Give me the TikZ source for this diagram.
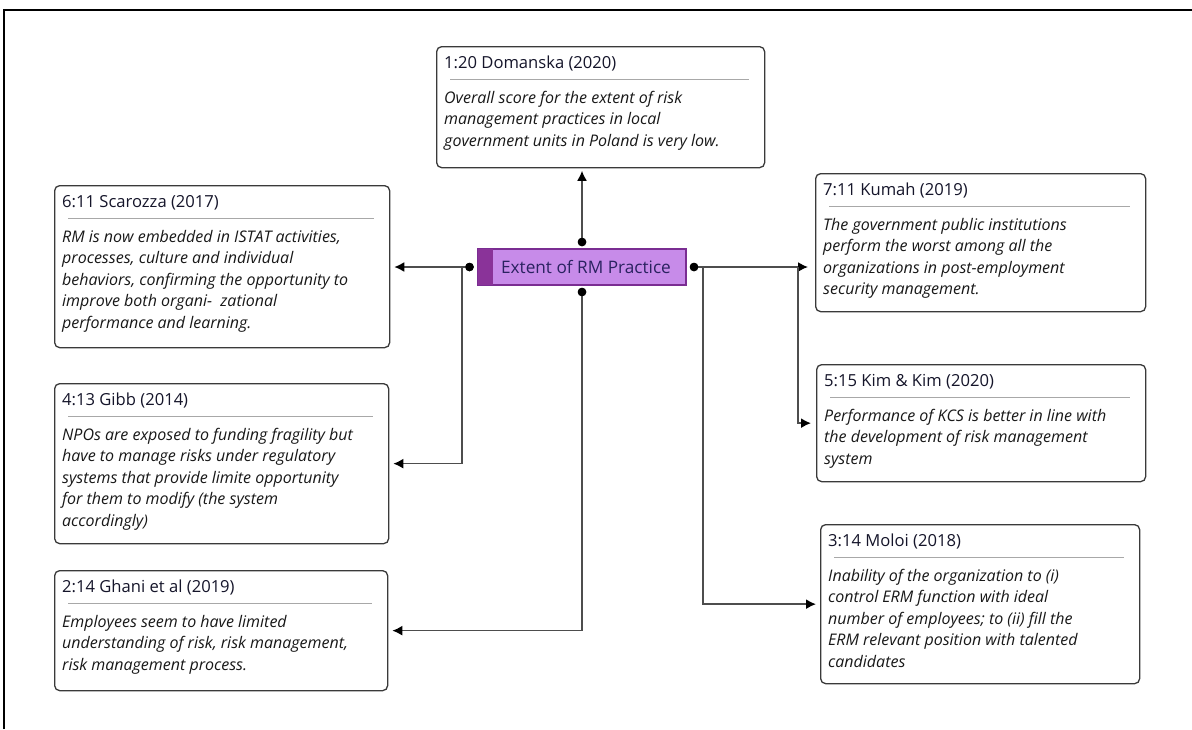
\documentclass[tikz,border=0pt]{standalone}
\usepackage{fontspec}
\setmainfont{Open Sans}
\usetikzlibrary{arrows.meta,calc}
\definecolor{boxline}{HTML}{3A3A3A}
\definecolor{sepline}{HTML}{A8A8A8}
\definecolor{connline}{HTML}{4D4D4D}
\definecolor{ttlcol}{HTML}{15152A}
\definecolor{bodycol}{HTML}{181818}
\definecolor{cfill}{HTML}{C78BE9}
\definecolor{cstrip}{HTML}{8A3399}
\definecolor{cborder}{HTML}{7A2D92}
\definecolor{ctext}{HTML}{2A2260}
\newcommand\refbox[7]{%
  \node[rbox, anchor=north west, minimum width={(#4-#2)*1pt}, minimum height={(#5-#3)*1pt}] (#1) at (#2,#3) {};
  \node[ttl, anchor=base west] (#1-t) at ($(#1.north west)+(8,22.5)$) {#6};
  \draw[sepl] ($(#1.north west)+(14,33)$) -- ($(#1.north east)+(-16,33)$);
  \node[bodytxt, anchor=north west] (#1-b) at ($(#1.north west)+(8,42)$) {\strut #7};
}
\begin{document}
\begin{tikzpicture}[x=1pt,y=-1pt,
  rbox/.style={draw=boxline, line width=1.3pt, rounded corners=5pt, fill=white, inner sep=0pt},
  ttl/.style={font=\fontsize{16.6}{19}\selectfont, text=ttlcol, inner sep=0pt},
  bodytxt/.style={font=\fontsize{16}{21.5}\selectfont\itshape, text=bodycol, inner sep=0pt, align=left},
  sepl/.style={draw=sepline, line width=1pt},
  conn/.style={draw=connline, line width=1.6pt, -{Latex[length=10pt,width=10pt,color=black]}},
  dot/.style={circle, fill=black, minimum size=8.5pt, inner sep=0pt},
]
\useasboundingbox (0,0) rectangle (1192,729);
\draw[line width=1.5pt, black] (4,729) -- (4,10) -- (1192,10);

\refbox{dom}{436}{46}{764}{167}{1:20 Domanska (2020)}{Overall score for the extent of risk\\management practices in local\\government units in Poland is very low.}
\refbox{sca}{54}{185}{389}{347}{6:11 Scarozza (2017)}{RM is now embedded in ISTAT activities,\\processes, culture and individual\\behaviors, confirming the opportunity to\\improve both organi-\ \ zational\\performance and learning.}
\refbox{gib}{54}{383}{388}{543}{4:13 Gibb (2014)}{NPOs are exposed to funding fragility but\\have to manage risks under regulatory\\systems that provide limite opportunity\\for them to modify (the system\\accordingly)}
\refbox{gha}{54}{570}{387}{690}{2:14 Ghani et al (2019)}{Employees seem to have limited\\understanding of risk, risk management,\\risk management process.}
\refbox{kum}{815}{173}{1145}{311}{7:11 Kumah (2019)}{The government public institutions\\perform the worst among all the\\organizations in post-employment\\security management.}
\refbox{kim}{816}{364}{1145}{481}{5:15 Kim \& Kim (2020)}{Performance of KCS is better in line with\\the development of risk management\\system}
\refbox{mol}{820}{524}{1139}{683}{3:14 Moloi (2018)}{Inability of the organization to (i)\\control ERM function with ideal\\number of employees; to (ii) fill the\\ERM relevant position with talented\\candidates}

% central node
\node[draw=cborder, line width=1.2pt, fill=cfill, minimum width=208pt, minimum height=36pt, inner sep=0pt] (ctr) at (582,267) {};
\fill[cstrip] ($(ctr.north west)+(0.6,0.6)$) rectangle ($(ctr.south west)+(16,-0.6)$);
\node[font=\fontsize{17.2}{20}\selectfont, text=ctext, inner sep=0pt] (ctr-t) at ($(ctr.center)+(4,0)$) {Extent of RM Practice};

% dots
\node[dot] (dT) at (582,242) {};
\node[dot] (dB) at (582,292) {};
\node[dot] (dL) at (469.5,267) {};
\node[dot] (dR) at (694,267) {};
\coordinate (lt) at (462,267);
\coordinate (rt1) at (798,267);
\coordinate (rt2) at (703,267);

% connectors
\draw[conn] (dT.center) -- ($(dT |- dom.south)+(0,2.5)$);
\draw[conn] (dL.center) -- ($(dL -| sca.east)+(4,0)$);
\draw[conn] (lt) |- ($(gib.east)+(4,0)$);
\draw[conn] (dB.center) |- ($(gha.east)+(4,0)$);
\draw[conn] (dR.center) -- ($(dR -| kum.west)+(-7,0)$);
\draw[conn] (rt1) |- ($(kim.west)+(-5,0)$);
\draw[conn] (rt2) |- ($(mol.west)+(-4,0)$);
\node[dot] (dT2) at (dT) {};
\node[dot] (dB2) at (dB) {};
\node[dot] (dL2) at (dL) {};
\node[dot] (dR2) at (dR) {};
\end{tikzpicture}
\end{document}
